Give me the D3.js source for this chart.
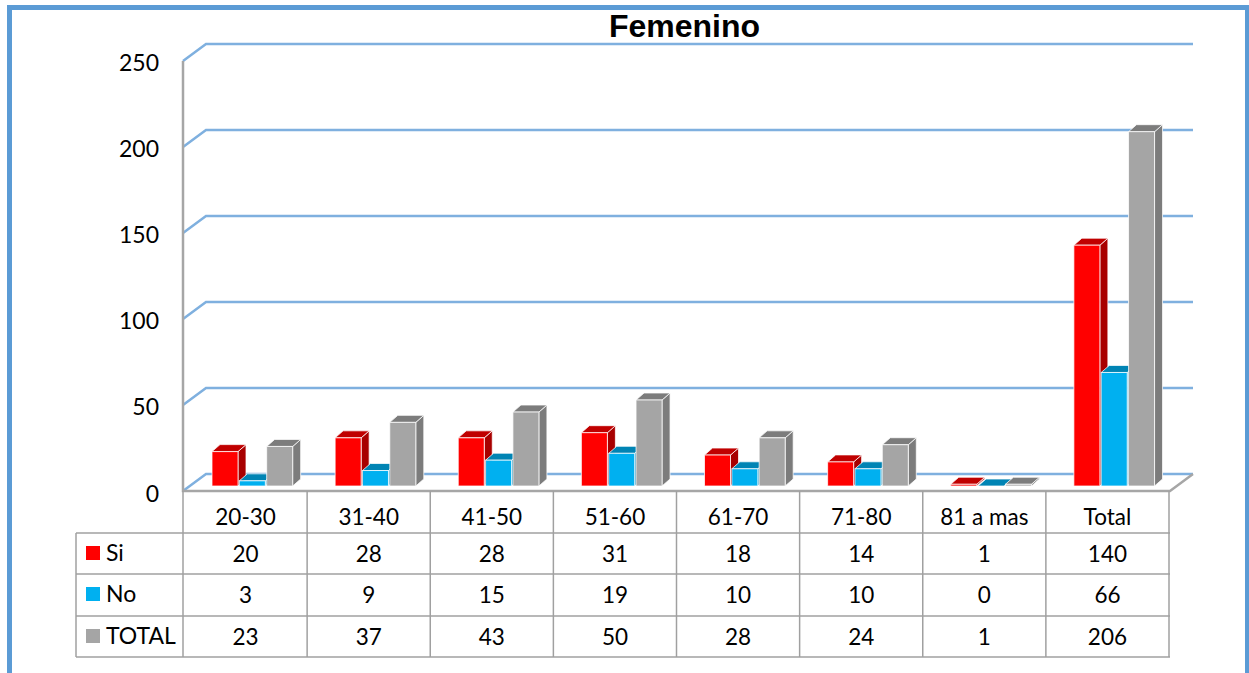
<!DOCTYPE html>
<html>
<head>
<meta charset="utf-8">
<script src="https://cdn.jsdelivr.net/npm/d3@7"></script>
<style>
  html, body { margin: 0; padding: 0; background: #fff; overflow: hidden; }
  text { font-family: Lato, sans-serif; fill: #000; }
</style>
</head>
<body>
<svg id="chart" width="1249" height="673"></svg>
<script>
// Data
let categories = ['20-30', '31-40', '41-50', '51-60', '61-70', '71-80', '81 a mas', 'Total']
let seriesNames = ['Si', 'No', 'TOTAL']
let si = [20, 28, 28, 31, 18, 14, 1, 140]
let no = [3, 9, 15, 19, 10, 10, 0, 66]
let total = [23, 37, 43, 50, 28, 24, 1, 206]
let yTicks = [0, 50, 100, 150, 200, 250]

let seriesValues = [si, no, total]
let colors = {
  Si: { front: '#ff0000', side: '#a80000', top: '#c00000' },
  No: { front: '#00b0f0', side: '#0084b4', top: '#0084b4' },
  TOTAL: { front: '#a5a5a5', side: '#7c7c7c', top: '#7c7c7c' }
}

let svg = d3.select('#chart')

// Frame around the chart
svg
  .append('rect')
  .attr('x', 9.5)
  .attr('y', 7.5)
  .attr('width', 1238)
  .attr('height', 680)
  .attr('fill', 'none')
  .attr('stroke', '#5b9bd5')
  .attr('stroke-width', 5)

svg
  .append('text')
  .text('Femenino')
  .attr('x', 684.5)
  .attr('y', 37)
  .attr('text-anchor', 'middle')
  .style('font-family', '"Liberation Sans"')
  .style('font-weight', 'bold')
  .style('font-size', '32px')

// Scales
let yScale = d3.scaleLinear().domain([0, 250]).range([491, 61])
let xScale = d3.scaleBand().domain(categories).range([184, 1169])
let barScale = d3.scaleBand().domain(seriesNames).range([28, 110])

// 3d offsets
let wallDx = 23
let wallDy = 17
let barDx = 8
let barDy = 7
let barLift = 5
let barWidth = 26

let gridColor = '#7fb0df'
let axisColor = '#a6a6a6'

// Gridlines: along the back wall, then down the side wall
yTicks.forEach(tick => {
  let y = yScale(tick)
  svg
    .append('path')
    .attr('d', `M${xScale.range()[0] - 1},${y}L${xScale.range()[0] + wallDx - 1},${y - wallDy}H${xScale.range()[1] + wallDx + 1}`)
    .attr('fill', 'none')
    .attr('stroke', gridColor)
    .attr('stroke-width', 2.5)

  svg
    .append('text')
    .text(tick)
    .attr('x', 159)
    .attr('y', y + (tick === 0 ? 10 : 9) + 1)
    .attr('text-anchor', 'end')
    .style('font-size', '23px')
})

// Wall and floor edges
let x0 = xScale.range()[0] - 1
let x1 = xScale.range()[1] + 1
svg
  .append('path')
  .attr('d', `M${x0},${yScale(250)}V${yScale(0)}H${x1}L${x1 + wallDx},${yScale(0) - wallDy}`)
  .attr('fill', 'none')
  .attr('stroke', axisColor)
  .attr('stroke-width', 2.5)

// Bars
categories.forEach((cat, i) => {
  seriesNames.forEach((name, s) => {
    let value = seriesValues[s][i]
    let left = xScale(cat) + barScale(name)
    let right = left + barWidth
    let base = yScale(0) - barLift
    let top = yScale(value) - barLift
    let c = colors[name]
    let g = svg.append('g').attr('stroke', 'rgba(255,255,255,0.75)').attr('stroke-width', 1)

    g.append('path')
      .attr('d', `M${right},${top}L${right + barDx},${top - barDy}V${base - barDy}L${right},${base}Z`)
      .attr('fill', c.side)
    g.append('path')
      .attr('d', `M${left},${top}L${left + barDx},${top - barDy}H${right + barDx}L${right},${top}Z`)
      .attr('fill', c.top)
    g.append('rect')
      .attr('x', left)
      .attr('y', top)
      .attr('width', barWidth)
      .attr('height', base - top)
      .attr('fill', c.front)
  })
})

// Data table under the chart
let rowY = [491, 533, 574, 616, 657]
let tableLeft = 76
let lineColor = '#a0a0a0'

let hLine = (y, from, to) =>
  svg
    .append('line')
    .attr('x1', from)
    .attr('x2', to)
    .attr('y1', y)
    .attr('y2', y)
    .attr('stroke', lineColor)
    .attr('stroke-width', 1.5)

let vLine = (x, from, to) =>
  svg
    .append('line')
    .attr('x1', x)
    .attr('x2', x)
    .attr('y1', from)
    .attr('y2', to)
    .attr('stroke', lineColor)
    .attr('stroke-width', 1.5)

rowY.slice(1).forEach(y => hLine(y, tableLeft, x1))
vLine(tableLeft, rowY[1], rowY[4])
vLine(x0, rowY[0], rowY[4])
categories.forEach(cat => vLine(xScale(cat) + xScale.step(), rowY[0], rowY[4]))

let cellText = (txt, x, y) =>
  svg
    .append('text')
    .text(txt)
    .attr('x', x)
    .attr('y', y)
    .attr('text-anchor', 'middle')
    .style('font-size', '22.5px')

categories.forEach(cat => cellText(cat, xScale(cat) + xScale.bandwidth() / 2, rowY[0] + 34))

seriesNames.forEach((name, s) => {
  let top = rowY[s + 1]
  svg
    .append('rect')
    .attr('x', 86)
    .attr('y', top + 13)
    .attr('width', 14)
    .attr('height', 14)
    .attr('fill', colors[name].front)

  svg
    .append('text')
    .text(name)
    .attr('x', 106)
    .attr('y', top + 28)
    .style('font-size', '23px')

  categories.forEach((cat, i) => {
    cellText(seriesValues[s][i], xScale(cat) + xScale.bandwidth() / 2, top + 29)
  })
})
</script>
</body>
</html>
